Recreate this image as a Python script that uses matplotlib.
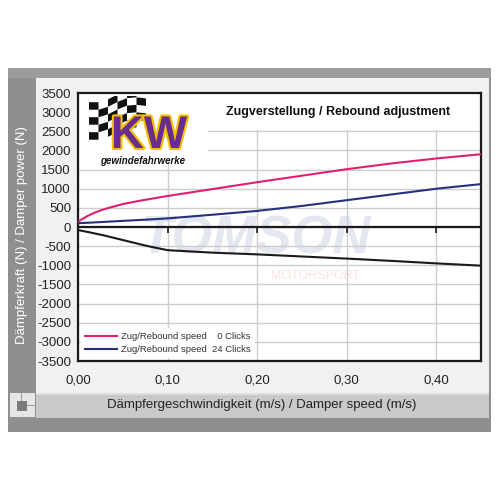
import numpy as np
import matplotlib
matplotlib.use('Agg')
import matplotlib.pyplot as plt
from matplotlib.patches import Rectangle, Polygon
import matplotlib.patheffects as pe

plt.rcParams['font.family'] = ['Liberation Sans', 'DejaVu Sans']
plt.rcParams['axes.unicode_minus'] = False

# damper speed (m/s) and forces (N)
speed = [0.0, 0.01, 0.02, 0.03, 0.05, 0.07, 0.08, 0.10, 0.15, 0.20, 0.25, 0.30, 0.35, 0.40, 0.45]
rebound_0 = [140, 280, 390, 470, 600, 690, 730, 810, 990, 1170, 1340, 1510, 1660, 1790, 1900]
rebound_24 = [100, 110, 122, 135, 160, 185, 197, 225, 320, 420, 550, 700, 850, 1000, 1120]
compression = [-80, -125, -175, -225, -340, -455, -510, -605, -670, -715, -770, -825, -885, -950, -1010]

labels = ['Zug/Rebound speed    0 Clicks', 'Zug/Rebound speed  24 Clicks']
x_ticks = [0.0, 0.1, 0.2, 0.3, 0.4]
x_ticklabels = ['0,00', '0,10', '0,20', '0,30', '0,40']
y_ticks = list(range(-3500, 3501, 500))

W, H = 499, 500
fig = plt.figure(figsize=(W / 100, H / 100), dpi=100)


def box(x0, y0, x1, y1):
    # pixel box (top-left origin) -> figure fraction rect
    return (x0 / W, 1 - y1 / H, (x1 - x0) / W, (y1 - y0) / H)


def fig_rect(x0, y0, x1, y1, color):
    l, b, w, h = box(x0, y0, x1, y1)
    fig.patches.append(Rectangle((l, b), w, h, transform=fig.transFigure,
                                 facecolor=color, edgecolor='none', zorder=-5))


# frame panels
fig_rect(8, 68, 491, 432, '#8f8f8f')
fig_rect(8, 68, 491, 78, '#9c9c9c')
fig_rect(36, 78, 489, 393, '#f1f1f1')
fig_rect(36, 393, 489, 418, '#c9c9c9')
fig_rect(36, 393, 489, 395, '#dedede')
fig_rect(10, 393, 35, 417, '#e6e6e6')
fig_rect(17, 401, 27, 411, '#7b7b7b')
fig_rect(21, 393, 22, 401, '#9a9a9a')
fig_rect(27, 405, 35, 406, '#9a9a9a')

fig.text(22 / W, 1 - 235 / H, 'Dämpferkraft (N) / Damper power (N)', rotation=90,
         color='white', fontsize=9.5, ha='center', va='center')
fig.text(262 / W, 1 - 405 / H, 'Dämpfergeschwindigkeit (m/s) / Damper speed (m/s)',
         color='#222222', fontsize=9.5, ha='center', va='center')

ax = fig.add_axes(box(78, 93, 481, 361))
ax.set_facecolor('white')
ax.set_xlim(0, 0.45)
ax.set_ylim(-3500, 3500)
ax.set_yticks(y_ticks)
ax.set_xticks(x_ticks)
ax.set_xticklabels(x_ticklabels)
ax.tick_params(length=0, labelsize=9.5, colors='#222222')
ax.tick_params(axis='x', pad=10)
ax.tick_params(axis='y', pad=5)
ax.set_axisbelow(True)
ax.grid(color='#cdcdcd', lw=1)
for s in ax.spines.values():
    s.set_linewidth(1.6)
    s.set_color('#1a1a1a')

# white areas for logo and title
ax.add_patch(Rectangle((0, 2540), 0.45, 1000, facecolor='white', edgecolor='none', zorder=0.8))
ax.add_patch(Rectangle((0, 1700), 0.145, 1900, facecolor='white', edgecolor='none', zorder=0.8))

# watermark
ax.text(0.198, -330, 'TOMSON', fontsize=38, fontweight='bold', fontstyle='italic',
        color='#e4e6f0', ha='center', va='center', zorder=0.3)
ax.text(0.265, -1290, 'MOTORSPORT', fontsize=9, color='#f8e6dc',
        ha='center', va='center', zorder=0.3)

ax.axhline(0, color='#1a1a1a', lw=1.6, zorder=2)
ax.vlines(x_ticks[1:], -150, 0, color='#1a1a1a', lw=1.2, zorder=2)

ax.plot(speed, rebound_0, color='#e0206e', lw=1.5, label=labels[0], zorder=3)
ax.plot(speed, rebound_24, color='#26307f', lw=1.5, label=labels[1], zorder=3)
ax.plot(speed, compression, color='#1a1a1a', lw=1.5, zorder=3)

leg = ax.legend(loc='lower left', fontsize=6.8, frameon=True, framealpha=1,
                facecolor='white', edgecolor='none', handlelength=3.4,
                borderaxespad=0.3, labelspacing=0.45, fancybox=False, handletextpad=0.5)
for t in leg.get_texts():
    t.set_color('#333333')

ax.text(0.29, 3000, 'Zugverstellung / Rebound adjustment', fontsize=9, fontweight='bold',
        ha='center', va='center', color='#111111', zorder=3)

# KW logo
lg = fig.add_axes(box(86, 96, 200, 166))
lg.set_xlim(0, 114)
lg.set_ylim(70, 0)
lg.axis('off')
cols, rows = 6, 5
for i in range(cols):
    for j in range(rows):
        if (i + j) % 2:
            continue
        xs = [3 + i * 9.5, 3 + (i + 1) * 9.5]
        ys = [5 + j * 7.5, 5 + (j + 1) * 7.5]
        wave = lambda x: -0.2 * (x - 4) + 3 * np.sin(x / 9.0)
        pts = [(xs[0], ys[0] + wave(xs[0])), (xs[1], ys[0] + wave(xs[1])),
               (xs[1], ys[1] + wave(xs[1])), (xs[0], ys[1] + wave(xs[0]))]
        lg.add_patch(Polygon(pts, closed=True, facecolor='#111111', edgecolor='none'))
lg.text(63, 40, 'KW', fontsize=33, fontweight='bold', color='#6a2c8e', ha='center', va='center',
        path_effects=[pe.withStroke(linewidth=3, foreground='#f2c000')])
lg.text(57, 65, 'gewindefahrwerke', fontsize=7, fontweight='bold', fontstyle='italic',
        color='#111111', ha='center', va='center')

fig.savefig('out.png', dpi=100)
